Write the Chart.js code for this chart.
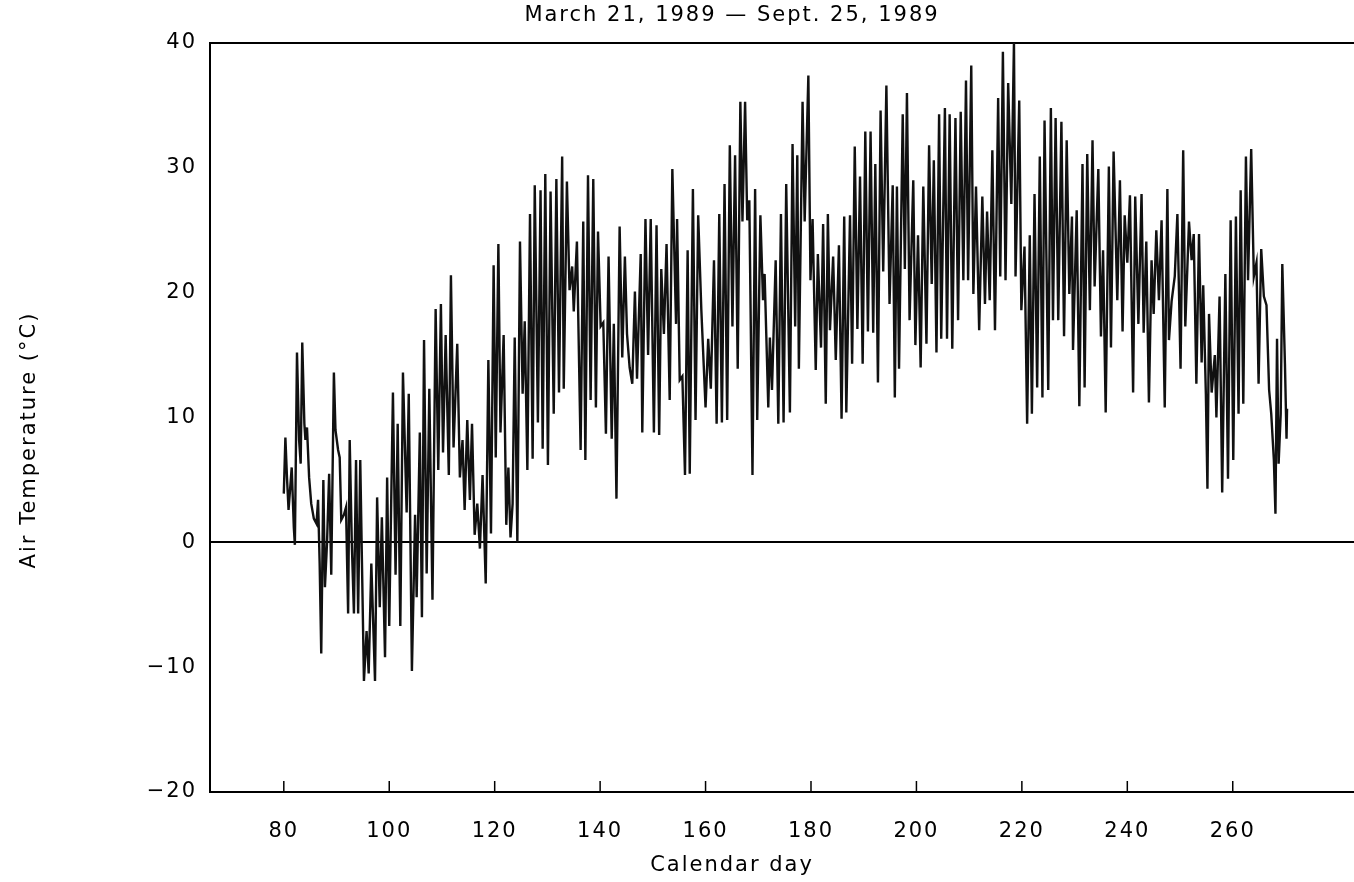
<!DOCTYPE html>
<html>
<head>
<meta charset="utf-8">
<title>Air temperature 1989</title>
<script src="https://cdn.jsdelivr.net/npm/chart.js@4.4.1/dist/chart.umd.min.js"></script>
<style>
  html, body { margin: 0; padding: 0; background: #fff; }
  #wrap { width: 1354px; height: 882px; }
</style>
</head>
<body>
<div id="wrap"><canvas id="grafico" width="1354" height="882"></canvas></div>
<script>
// Lecturas (día juliano, temperatura) tomadas de la figura: máximos y mínimos diarios
const dayOfYear = [
  80.0, 80.3, 80.6, 80.9, 81.5, 81.9, 82.1, 82.5, 82.9, 83.2, 83.5, 83.9, 84.1, 84.4, 84.8, 85.2, 85.7, 86.2, 86.5, 86.8,
  87.1, 87.5, 87.8, 88.2, 88.6, 89.0, 89.5, 89.8, 90.3, 90.6, 90.9, 91.4, 91.8, 92.2, 92.5, 92.9, 93.3, 93.7, 94.1, 94.5,
  95.2, 95.7, 96.1, 96.6, 97.3, 97.7, 98.2, 98.6, 99.2, 99.6,
  100.0, 100.7, 101.2, 101.6, 102.1, 102.6, 103.3, 103.7, 104.3, 104.9, 105.2, 105.8, 106.2, 106.6, 107.1, 107.6, 108.2, 108.8, 109.3, 109.8,
  110.2, 110.7, 111.3, 111.7, 112.2, 112.9, 113.4, 113.9, 114.3, 114.8, 115.3, 115.7, 116.2, 116.7, 117.2, 117.7, 118.3, 118.8, 119.3,
  119.8, 120.2, 120.7, 121.1, 121.7, 122.2, 122.6, 123.0, 123.4, 123.8, 124.3, 124.8, 125.3, 125.7, 126.2, 126.7, 127.2, 127.6, 128.2, 128.7,
  129.1, 129.6, 130.1, 130.6, 131.2, 131.7, 132.2, 132.8, 133.1, 133.7, 134.2, 134.7, 135.0, 135.6, 136.3, 136.8, 137.2, 137.7, 138.2, 138.7,
  139.2, 139.6, 140.1, 140.6, 141.1,
  141.6, 142.2, 142.6, 143.1, 143.7, 144.2, 144.7, 145.1, 145.6, 146.1, 146.6, 147.0, 147.7, 148.0, 148.6, 149.1, 149.6, 150.2, 150.7, 151.2,
  151.6, 152.1, 152.6, 153.2, 153.7, 154.4, 154.6, 155.1, 155.6, 156.1, 156.6, 157.0, 157.6, 158.1, 158.6, 159.2, 160.0, 160.5, 161.0, 161.6,
  162.1, 162.6,
  163.1, 163.6, 164.1, 164.6, 165.1, 165.6, 166.1, 166.6, 167.0, 167.5, 167.9, 168.3, 168.5, 168.9, 169.4, 169.8, 170.4, 170.9, 171.2, 171.9,
  172.2, 172.6, 173.3, 173.8, 174.3, 174.8, 175.3, 176.0, 176.5, 177.0, 177.4, 177.7, 178.4, 178.8, 179.5, 179.9, 180.3, 180.9, 181.3, 181.9,
  182.3, 182.8, 183.2,
  183.6, 184.2, 184.7, 185.3, 185.8, 186.3, 186.7, 187.4, 187.8, 188.3, 188.8, 189.3, 189.8, 190.3, 190.8, 191.3, 191.8, 192.2, 192.7, 193.2,
  193.7, 194.3, 194.9, 195.5, 195.9, 196.3, 196.7, 197.4, 197.8, 198.2, 198.7, 199.4, 199.8, 200.3, 200.8, 201.3, 201.9, 202.4, 202.9, 203.3,
  203.8, 204.3,
  204.7, 205.4, 205.8, 206.3, 206.8, 207.4, 207.9, 208.4, 208.9, 209.4, 209.8, 210.4, 210.8, 211.3, 211.9, 212.5, 213.0, 213.4, 213.9, 214.4,
  214.9, 215.5, 215.9, 216.4, 216.9, 217.4, 218.0, 218.5, 218.8, 219.5, 219.9, 220.5, 221.0, 221.5, 221.9, 222.4, 222.9, 223.4, 223.9, 224.3,
  225.0,
  225.5, 225.9, 226.4, 226.9, 227.5, 228.0, 228.5, 229.0, 229.5, 229.7, 230.4, 230.9, 231.5, 231.9, 232.4, 232.9, 233.4, 233.8, 234.5, 235.0,
  235.4, 235.9, 236.5, 236.9, 237.4, 238.1, 238.6, 239.1, 239.5, 240.0, 240.5, 241.1, 241.5, 242.1, 242.7, 243.1, 243.6, 244.1,
  244.6, 245.0, 245.5, 246.0, 246.5, 247.1, 247.6, 247.9, 248.4, 249.0, 249.5, 250.1, 250.6, 251.0, 251.7, 252.2, 252.6, 253.1, 253.6, 254.1,
  254.4, 254.9, 255.2, 255.5, 256.0, 256.6, 256.9, 257.5, 258.0, 258.6, 259.1, 259.6, 260.1, 260.6, 261.1, 261.5, 262.0, 262.5, 262.9, 263.5,
  264.0, 264.5, 264.9, 265.4, 265.9, 266.4, 266.9, 267.3, 267.8, 268.1, 268.4, 268.7, 269.1, 269.4, 269.9, 270.2, 270.3
];

const airTemp = [
  3.9, 8.4, 5.2, 2.6, 6.0, 1.2, -0.2, 15.2, 8.2, 6.3, 16.0, 9.5, 8.2, 9.2, 5.2, 3.1, 1.9, 1.5, 3.4, -1.7,
  -8.9, 5.0, -3.6, 0.0, 5.5, -2.6, 13.6, 9.0, 7.4, 6.8, 1.8, 2.2, 2.8, -5.7, 8.2, -0.1, -5.7, 6.6, -5.7, 6.6,
  -11.1, -7.1, -10.5, -1.7, -11.1, 3.6, -5.2, 2.0, -9.2, 5.2,
  -6.7, 12.0, -2.6, 9.5, -6.7, 13.6, 2.4, 11.9, -10.3, 2.2, -4.4, 8.8, -6.0, 16.2, -2.5, 12.3, -4.6, 18.7, 5.8, 19.1,
  7.2, 16.6, 5.4, 21.4, 7.6, 15.9, 5.2, 8.2, 2.6, 9.8, 3.4, 9.5, 0.6, 3.1, -0.5, 5.4, -3.3, 14.6, 0.7,
  22.2, 6.8, 23.9, 8.8, 16.6, 1.4, 6.0, 0.4, 3.1, 16.4, 0.0, 24.1, 11.9, 17.7, 5.8, 26.3, 6.7, 28.6, 9.6, 28.2,
  7.5, 29.5, 6.2, 28.1, 10.3, 29.1, 12.0, 30.9, 12.3, 28.9, 20.2, 22.1, 18.5, 24.1, 7.4, 25.7, 6.6, 29.4, 11.4, 29.1,
  10.8, 24.9, 17.3, 17.6, 8.7,
  22.9, 8.3, 17.5, 3.5, 25.3, 14.8, 22.9, 16.7, 14.0, 12.7, 20.1, 13.1, 23.1, 8.8, 25.9, 15.0, 25.9, 8.8, 25.4, 8.6,
  21.9, 16.7, 23.9, 11.4, 29.9, 17.5, 25.9, 13.0, 13.3, 5.4, 23.4, 5.5, 28.3, 9.8, 26.2, 18.6, 10.8, 16.3, 12.3, 22.6,
  9.5, 26.3,
  9.6, 28.7, 9.8, 31.8, 17.3, 31.0, 13.9, 35.3, 25.7, 35.3, 25.8, 27.4, 20.2, 5.4, 28.3, 9.8, 26.2, 19.4, 21.5, 10.8,
  16.4, 12.2, 22.6, 9.5, 26.3, 9.6, 28.7, 10.4, 31.9, 17.3, 31.0, 13.9, 35.3, 25.7, 37.4, 21.0, 25.9, 13.8, 23.1, 15.6,
  25.5, 11.1, 26.3,
  17.0, 22.9, 14.6, 23.8, 9.9, 26.1, 10.4, 26.2, 14.3, 31.7, 17.1, 29.3, 14.3, 32.9, 16.9, 32.9, 16.8, 30.3, 12.8, 34.6,
  21.7, 36.6, 19.1, 28.6, 11.6, 28.5, 13.9, 34.3, 21.9, 36.0, 17.8, 29.0, 15.8, 24.6, 14.0, 28.5, 15.9, 31.8, 20.7, 30.6,
  15.2, 34.3,
  16.3, 34.8, 16.3, 34.3, 15.5, 34.0, 17.8, 34.5, 21.0, 37.0, 21.0, 38.2, 19.9, 28.5, 17.0, 27.7, 19.1, 26.5, 19.4, 31.4,
  17.0, 35.6, 21.3, 39.3, 21.0, 36.8, 27.1, 40.1, 21.3, 35.4, 18.6, 23.7, 9.5, 24.6, 10.3, 27.9, 12.4, 30.9, 11.6, 33.8,
  12.2,
  34.8, 17.8, 34.0, 17.8, 33.7, 16.5, 32.2, 19.9, 26.1, 15.4, 26.6, 10.9, 30.3, 12.4, 31.1, 18.6, 32.2, 20.5, 29.9, 16.5,
  23.4, 10.4, 30.1, 15.6, 31.3, 19.4, 29.0, 16.9, 26.2, 22.4, 27.8, 12.0, 27.7, 17.5, 27.9, 16.8, 24.1, 11.2,
  22.6, 18.3, 25.0, 19.4, 25.8, 10.8, 28.3, 16.2, 19.3, 21.3, 26.3, 13.9, 31.4, 17.3, 25.7, 22.6, 24.7, 12.7, 24.7, 14.4,
  20.6, 11.9, 4.3, 18.3, 12.0, 15.0, 10.0, 19.7, 4.0, 21.5, 5.1, 25.8, 6.6, 26.1, 10.3, 28.2, 11.1, 30.9, 21.0, 31.5,
  21.3, 22.4, 12.7, 23.5, 19.7, 19.0, 12.2, 10.3, 6.6, 2.3, 16.3, 6.3, 10.3, 22.3, 14.3, 8.3, 10.7
];

const xTicks = [80, 100, 120, 140, 160, 180, 200, 220, 240, 260];
const yTicks = [-20, -10, 0, 10, 20, 30, 40];
const chartTitle = 'March 21, 1989 \u2014 Sept. 25, 1989';
const xTitle = 'Calendar day';
const yTitle = 'Air Temperature (\u00B0C)';

const fuente = '"DejaVu Sans", "Liberation Sans", sans-serif';

// Títulos y marcas interiores del eje X
const extras = {
  id: 'extras',
  beforeDraw(chart) {
    chart.ctx.letterSpacing = '2px';
  },
  afterDraw(chart) {
    const ctx = chart.ctx;
    const xs = chart.scales.x;
    ctx.save();
    ctx.fillStyle = '#000';
    ctx.font = '21px ' + fuente;
    ctx.textAlign = 'center';
    ctx.textBaseline = 'middle';
    ctx.fillText(chartTitle, 732, 16);
    ctx.fillText(xTitle, 732, 866);
    ctx.translate(30, 440);
    ctx.rotate(-Math.PI / 2);
    ctx.fillText(yTitle, 0, 0);
    ctx.restore();

    // marcas hacia dentro
    ctx.save();
    ctx.strokeStyle = '#000';
    ctx.lineWidth = 1.5;
    xs.ticks.forEach(t => {
      const px = xs.getPixelForValue(t.value);
      ctx.beginPath();
      ctx.moveTo(px, xs.top);
      ctx.lineTo(px, xs.top - 11);
      ctx.stroke();
    });
    ctx.restore();
  }
};

const puntos = dayOfYear.map((d, i) => ({ x: d, y: airTemp[i] }));

new Chart(document.getElementById('grafico').getContext('2d'), {
  type: 'line',
  data: {
    datasets: [{
      data: puntos,
      borderColor: '#111',
      borderWidth: 2.4,
      borderJoinStyle: 'miter',
      pointRadius: 0,
      tension: 0,
      fill: false
    }]
  },
  options: {
    responsive: false,
    animation: false,
    devicePixelRatio: 1,
    layout: { padding: { top: 43, right: 0, left: 0, bottom: 0 } },
    plugins: {
      legend: { display: false },
      title: { display: false },
      tooltip: { enabled: false }
    },
    scales: {
      x: {
        type: 'linear',
        min: 66,
        max: 283,
        afterBuildTicks: s => { s.ticks = xTicks.map(v => ({ value: v })); },
        afterFit: s => { s.height = 90; },
        grid: { display: false, drawTicks: false },
        border: { display: true, color: '#000', width: 2 },
        ticks: {
          color: '#000',
          font: { family: fuente, size: 21 },
          padding: 27,
          maxRotation: 0,
          autoSkip: false
        }
      },
      y: {
        min: -20,
        max: 40,
        afterBuildTicks: s => { s.ticks = yTicks.map(v => ({ value: v })); },
        afterFit: s => { s.width = 210; },
        grid: {
          drawTicks: false,
          lineWidth: 2,
          color: c => (c.tick && (c.tick.value === 0 || c.tick.value === 40)) ? '#000' : 'rgba(0,0,0,0)'
        },
        border: { display: true, color: '#000', width: 2 },
        ticks: {
          color: '#000',
          font: { family: fuente, size: 21 },
          padding: 13,
          callback: v => String(v).replace('-', '\u2212')
        }
      }
    }
  },
  plugins: [extras]
});
</script>
</body>
</html>
